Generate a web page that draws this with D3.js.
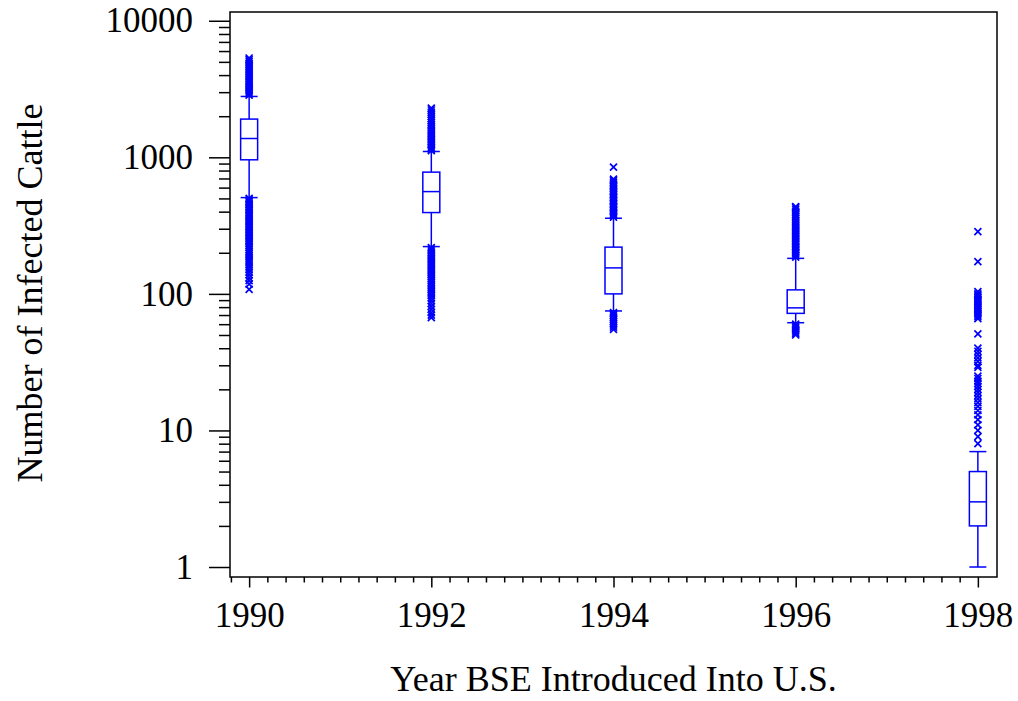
<!DOCTYPE html>
<html>
<head>
<meta charset="utf-8">
<script src="https://cdn.jsdelivr.net/npm/d3@7"></script>
<style>
  body { margin: 0; background: #fff; }
  text { font-family: "Liberation Serif", "Times New Roman", serif; fill: #000; }
</style>
</head>
<body>
<div id="chart"></div>
<script>
const years = [1990, 1992, 1994, 1996, 1998];
const whiskerLow = [507, 222, 75, 61.5, 1];
const q1 = [959, 394, 100, 72, 2];
const median = [1373, 561, 155, 79, 3];
const q3 = [1905, 779, 220, 107, 5];
const whiskerHigh = [2790, 1103, 358, 182, 7];

const outliers1990 = [2850, 2920, 3000, 3080, 3160, 3250, 3340, 3440, 3540, 3640, 3750, 3860, 3980,
  4100, 4220, 4350, 4480, 4620, 4760, 4900, 5050, 5200, 5335,
  500, 488, 476, 464, 452, 440, 429, 418, 407, 396, 386, 376, 366, 356, 347, 338, 329, 320,
  312, 304, 296, 288, 281, 274, 267, 260, 253, 246, 239, 232, 225, 218, 211, 204, 197, 190,
  183, 176, 170, 163, 157, 150, 144, 138, 131, 125, 118, 108];
const outliers1992 = [1120, 1150, 1180, 1210, 1240, 1275, 1310, 1345, 1380, 1420, 1460, 1500, 1545,
  1590, 1640, 1690, 1740, 1800, 1860, 1920, 1990, 2060, 2140, 2220, 2294,
  218, 212, 206, 200, 194, 188, 183, 178, 173, 168, 163, 158, 154, 150, 146, 142, 138, 134,
  130, 126, 122, 118, 114, 110, 107, 104, 101, 97, 93, 89, 85, 81, 77, 73, 70, 67];
const outliers1994 = [364, 372, 381, 390, 399, 408, 418, 428, 438, 449, 460, 471, 483, 495, 507, 520,
  533, 547, 561, 576, 591, 607, 623, 640, 657, 675, 692, 848,
  73, 71, 69, 67, 65, 63, 61, 59, 57, 55];
const outliers1996 = [186, 191, 196, 201, 206, 211, 217, 223, 229, 235, 241, 248, 255, 262, 269, 276,
  284, 292, 300, 309, 318, 327, 337, 347, 358, 369, 380, 392, 404, 417, 430, 436,
  60, 58.5, 57, 55.5, 54, 52.5, 51, 50];
const outliers1998 = [8, 9, 10, 11, 12, 13, 14, 15, 16, 17, 18, 19, 20, 21, 22, 23, 24, 25,
  29, 30, 32, 34, 36, 38, 40, 51,
  66, 68, 70, 72, 74, 76, 78, 80, 82, 85, 88, 90, 92, 95, 98, 100, 104, 172, 286];
const outliers = [outliers1990, outliers1992, outliers1994, outliers1996, outliers1998];

const yMajor = [1, 10, 100, 1000, 10000];
const xMajor = [1990, 1992, 1994, 1996, 1998];

const width = 1018, height = 701;
const plot = { left: 230, right: 997, top: 12, bottom: 577 };
const blue = "#0000ff";

const svg = d3.select("#chart")
  .append("svg")
  .attr("width", width)
  .attr("height", height);

const x = d3.scaleLinear().domain([1989.79, 1998.21]).range([plot.left, plot.right]);
const y = d3.scaleLog().domain([0.845, 11590]).range([plot.bottom, plot.top]);

// frame
svg.append("rect")
  .attr("x", plot.left).attr("y", plot.top)
  .attr("width", plot.right - plot.left).attr("height", plot.bottom - plot.top)
  .attr("fill", "none").attr("stroke", "#000").attr("stroke-width", 1.5);

// y axis: major + minor ticks outside
const yMinor = [];
yMajor.slice(0, -1).forEach(d => { for (let k = 2; k <= 9; k++) yMinor.push(d * k); });

svg.append("g")
  .attr("transform", `translate(${plot.left},0)`)
  .call(d3.axisLeft(y).tickValues(yMinor).tickSize(11).tickFormat(""))
  .call(g => g.select(".domain").remove())
  .selectAll("line").attr("stroke-width", 1.5);

const yAx = svg.append("g")
  .attr("transform", `translate(${plot.left},0)`)
  .call(d3.axisLeft(y).tickValues(yMajor).tickSize(21).tickPadding(16).tickFormat(d3.format("d")))
  .call(g => g.select(".domain").remove());
yAx.selectAll("line").attr("stroke-width", 1.5);
yAx.selectAll("text").style("font-size", "35px");

// x axis: minor every 0.2 year, major at even years
const xMinor = d3.range(-1, 41).map(i => 1990 + i * 0.2).filter(d => !xMajor.some(m => Math.abs(m - d) < 1e-6));

svg.append("g")
  .attr("transform", `translate(0,${plot.bottom})`)
  .call(d3.axisBottom(x).tickValues(xMinor).tickSize(5.5).tickFormat(""))
  .call(g => g.select(".domain").remove())
  .selectAll("line").attr("stroke-width", 1.5);

const xAx = svg.append("g")
  .attr("transform", `translate(0,${plot.bottom})`)
  .call(d3.axisBottom(x).tickValues(xMajor).tickSize(10.5).tickPadding(15).tickFormat(d3.format("d")))
  .call(g => g.select(".domain").remove());
xAx.selectAll("line").attr("stroke-width", 1.5);
xAx.selectAll("text").style("font-size", "35px");

// titles
svg.append("text")
  .attr("x", (plot.left + plot.right) / 2)
  .attr("y", 691)
  .attr("text-anchor", "middle")
  .style("font-size", "36px")
  .text("Year BSE Introduced Into U.S.");

svg.append("text")
  .attr("transform", `translate(42,293) rotate(-90)`)
  .attr("text-anchor", "middle")
  .style("font-size", "36px")
  .text("Number of Infected Cattle");

// box plots
const boxW = 17;
const boxes = svg.selectAll(".box")
  .data(years.map((yr, i) => ({
    year: yr, lo: whiskerLow[i], q1: q1[i], med: median[i], q3: q3[i], hi: whiskerHigh[i], out: outliers[i]
  })))
  .enter()
  .append("g")
  .attr("class", "box")
  .attr("transform", d => `translate(${x(d.year)},0)`)
  .attr("stroke", blue)
  .attr("stroke-width", 1.5)
  .attr("fill", "none");

boxes.append("line")
  .attr("y1", d => y(d.hi)).attr("y2", d => y(d.q3));
boxes.append("line")
  .attr("y1", d => y(d.q1)).attr("y2", d => y(d.lo));
boxes.append("rect")
  .attr("x", -boxW / 2).attr("width", boxW)
  .attr("y", d => y(d.q3)).attr("height", d => y(d.q1) - y(d.q3));
boxes.append("line")
  .attr("x1", -boxW / 2).attr("x2", boxW / 2)
  .attr("y1", d => y(d.med)).attr("y2", d => y(d.med));
boxes.append("line")
  .attr("x1", -boxW / 2).attr("x2", boxW / 2)
  .attr("y1", d => y(d.hi)).attr("y2", d => y(d.hi));
boxes.append("line")
  .attr("x1", -boxW / 2).attr("x2", boxW / 2)
  .attr("y1", d => y(d.lo)).attr("y2", d => y(d.lo));

const m = 3.5;
boxes.selectAll(".out")
  .data(d => d.out)
  .enter()
  .append("path")
  .attr("class", "out")
  .attr("stroke-width", 1.7)
  .attr("d", v => `M${-m},${y(v) - m}L${m},${y(v) + m}M${-m},${y(v) + m}L${m},${y(v) - m}`);
</script>
</body>
</html>
